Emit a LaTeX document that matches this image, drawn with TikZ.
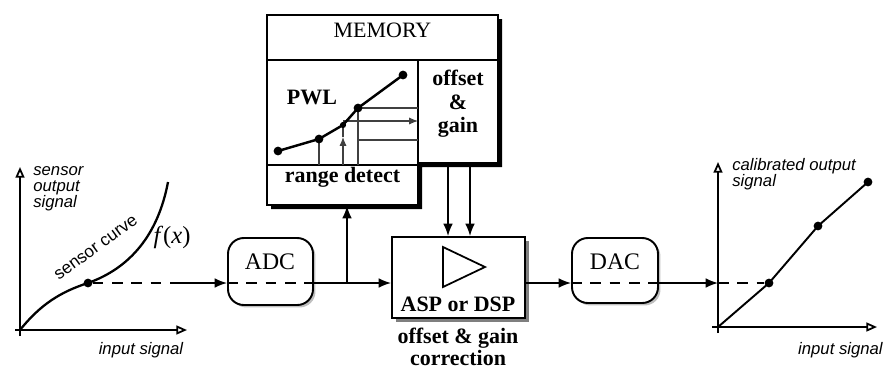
\documentclass[tikz,border=0pt]{standalone}
\usepackage{fontspec}
\setmainfont{Liberation Serif}
\setsansfont{Liberation Sans}
\usetikzlibrary{arrows.meta, positioning, fit, shadows}

\tikzset{
  blk/.style={draw, line width=1.1pt, fill=white, inner sep=0pt},
  conv/.style={blk, rounded corners=9pt, drop shadow={shadow xshift=1.4pt, shadow yshift=-1.4pt, fill=black!50}},
  sig/.style={line width=0.9pt, -{Latex[length=7pt,width=5.5pt]}},
  ax/.style={line width=1pt, -{Triangle[open,length=6pt,width=5pt]}},
  axlbl/.style={font=\sffamily\itshape\fontsize{9.5}{9}\selectfont, align=left, inner sep=0pt},
  rmtxt/.style={font=\fontsize{12.5}{14}\selectfont},
  bftxt/.style={font=\bfseries\fontsize{12.5}{13.4}\selectfont, align=center},
  pt/.style={circle, fill, inner sep=0pt, minimum size=5pt},
  thinl/.style={line width=0.6pt, black!75},
  dsh/.style={line width=0.9pt, dash pattern=on 6pt off 5pt},
}

\begin{document}
\begin{tikzpicture}[x=0.02cm, y=-0.02cm]
\useasboundingbox (0,0) rectangle (888,369);

%memory block
\fill (271,19) -- (502,19) -- (502,167) -- (422,167) -- (422,209) -- (271,209) -- cycle;
\node[blk, rmtxt, fit={(267,15) (498,60)}] (memhead) {MEMORY};
\node[blk, fit={(267,60) (418,165)}] (pwl) {};
\node[blk, bftxt, fit={(267,165) (418,205)}] (range) {range detect};
\node[blk, bftxt, fit={(418,60) (498,163)}] (gain) {offset\\\&\\gain};
\node[bftxt] (pwllbl) at (312,97) {PWL};

%pwl segments
\draw[thinl] (319,165) -- (319,139);
\draw[thinl] (358,165) -- (358,108) -- (418,108);
\draw[thinl] (358,140) -- (418,140);
\draw[thinl, -{Latex[length=5pt,width=4pt]}] (343,165) -- (343,137);
\draw[thinl] (343,137) -- (343,125);
\draw[thinl, -{Latex[length=5pt,width=4pt]}] (343,121) -- (418,121);
\draw[line width=1.4pt] (278,151) -- (319,139) -- (343,125) -- (358,108) -- (403,75);
\foreach \p in {(278,151),(319,139),(358,108),(403,75)}
  \node[pt] at \p {};
\node[pt, minimum size=3.5pt] at (343,125) {};

%processor
\node[blk, fit={(392,237) (525,318)}, drop shadow={shadow xshift=2pt, shadow yshift=-2pt, fill=black}] (asp) {};
\draw[line width=1pt] (443,247) -- (485,267) -- (443,287) -- cycle;
\node[bftxt] (asplbl) at (458,304) {ASP or DSP};
\node[bftxt, font=\bfseries\fontsize{12.5}{11}\selectfont] (corr) at (458,347) {offset \& gain\\correction};

%converters
\node[conv, fit={(228,238) (313,305)}] (adc) {};
\node[font=\fontsize{13.5}{15}\selectfont] (adclbl) at (270,262) {ADC};
\node[conv, fit={(572,238) (658,303)}] (dac) {};
\node[font=\fontsize{13.5}{15}\selectfont] (daclbl) at (615,262) {DAC};

%sensor plot
\coordinate (o1) at (20,330);
\draw[ax] (15,330) -- (187,330);
\draw[ax] (20,336) -- (20,167);
\draw[line width=1.3pt] (o1) .. controls (40,305) and (60,292) .. (88,283) .. controls (130,268) and (158,235) .. (168,182);
\node[pt] (sdot) at (88,283) {};
\node[axlbl, anchor=base west] (ylbl1) at (33,207) {sensor\\output\\signal};
\node[axlbl, anchor=base] (xlbl1) at (141,354) {input signal};
\node[font=\sffamily\fontsize{9.8}{10}\selectfont, rotate=36, inner sep=0pt] (crvlbl) at (96,248) {sensor curve};
\node[font=\fontsize{14}{15}\selectfont] (fx) at (172,237) {\textit{f}(\textit{x})};

%signal path
\coordinate (dsh1) at (177,283);
\coordinate (br) at (347,283);
\draw[dsh] (sdot) -- (dsh1);
\draw[sig] (dsh1) -- (adc.west |- sdot);
\draw[dsh] (adc.west |- sdot) -- (adc.east |- sdot);
\draw[sig] (adc.east |- sdot) -- (asp.west |- sdot);
\draw[sig] (br) -- (range.south -| br);
\coordinate (g1) at ([xshift=-0.2cm]gain.south);
\coordinate (g2) at ([xshift=0.24cm]gain.south);
\draw[sig] (g1) -- (g1 |- asp.north);
\draw[sig] (g2) -- (g2 |- asp.north);
\draw[sig] (asp.east |- sdot) -- (dac.west |- sdot);
\draw[dsh] (dac.west |- sdot) -- (dac.east |- sdot);

%calibrated plot
\coordinate (o2) at (718,327);
\draw[ax] (712,327) -- (877,327);
\draw[ax] (718,333) -- (718,162);
\draw[sig] (dac.east |- sdot) -- (o2 |- sdot);
\node[pt] (p1) at (769,283) {};
\node[pt] (p2) at (818,226) {};
\node[pt] (p3) at (868,182) {};
\draw[line width=1.1pt] (o2) -- (p1.center) -- (p2.center) -- (p3.center);
\draw[dsh] (o2 |- sdot) -- (p1);
\node[axlbl, anchor=base west] (ylbl2) at (732,186) {calibrated output\\signal};
\node[axlbl, anchor=base east] (xlbl2) at (883,354) {input signal};
\end{tikzpicture}
\end{document}
